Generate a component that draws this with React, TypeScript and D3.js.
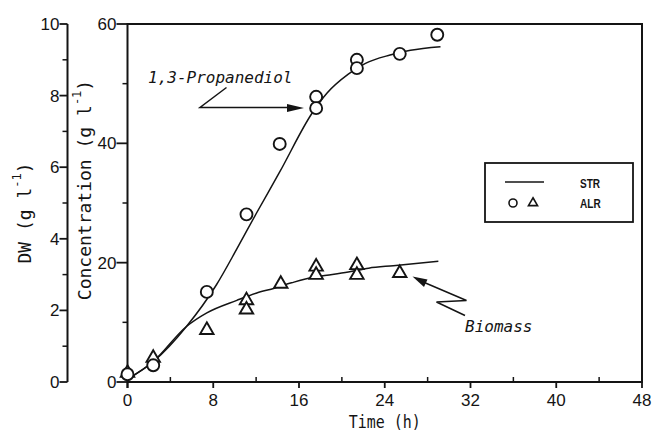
import React, { useEffect, useRef } from 'react';
import * as d3 from 'd3';

// ALR, 1,3-propanediol (circles), g/l
const pdoTime = [0, 2.4, 7.4, 11.1, 14.2, 17.6, 17.6, 21.4, 21.4, 25.4, 28.9];
const pdoConc = [1.3, 2.8, 15.1, 28.1, 39.9, 47.8, 45.9, 54.0, 52.6, 55.0, 58.2];
// ALR, biomass (triangles), DW g/l
const bioTime = [0, 2.4, 7.4, 11.1, 11.1, 14.3, 17.6, 17.6, 21.4, 21.4, 25.4];
const bioDW = [0.25, 0.67, 1.45, 2.28, 2.02, 2.74, 3.22, 2.99, 3.26, 2.99, 3.04];
// STR curves
const strPdoTime = [0, 2.4, 5.5, 8.3, 10.2, 12, 14.2, 17.2, 18.6, 20.6, 22.2, 24.5, 26.4, 29.2];
const strPdoConc = [0.5, 3.4, 9.3, 16.3, 22.3, 28.2, 35.2, 45, 48.4, 51.6, 53.4, 54.8, 55.6, 56.2];
const strBioTime = [0, 2.4, 5.5, 7.4, 10.2, 12, 13.7, 15.3, 17.2, 18.6, 20.6, 22.5, 24.8, 29];
const strBioDW = [0.08, 0.57, 1.55, 1.93, 2.28, 2.48, 2.62, 2.77, 2.92, 2.98, 3.07, 3.18, 3.25, 3.37];

const timeTicks = [0, 8, 16, 24, 32, 40, 48];
const timeMinor = [4, 12, 20, 28, 36, 44];
const concTicks = [0, 20, 40, 60];
const concMinor = [10, 30, 50];
const dwTicks = [0, 2, 4, 6, 8, 10];
const dwMinor = [1, 3, 5, 7, 9];

const INK = '#141414';
const SANS = 'Liberation Sans, Arial, sans-serif';
const MONO = 'DejaVu Sans Mono, monospace';

const App = () => {
  const ref = useRef<SVGSVGElement>(null);

  useEffect(() => {
    const svg = d3.select(ref.current);
    svg.selectAll('*').remove();

    const left = 127.5, right = 642, top = 24, bottom = 382, dwX = 67.5;
    const x = d3.scaleLinear().domain([0, 48]).range([left, right]);
    const y = d3.scaleLinear().domain([0, 60]).range([bottom, top]);
    const yDW = d3.scaleLinear().domain([0, 10]).range([bottom, top]);

    const g = svg.append('g');

    // frame
    g.append('path')
      .attr('d', `M${left},${bottom + 6}V${top}H${right}V${bottom}H${left}`)
      .attr('fill', 'none').attr('stroke', INK).attr('stroke-width', 2);

    // x ticks
    g.selectAll('.xt').data(timeTicks).enter().append('line')
      .attr('x1', (d) => x(d)).attr('x2', (d) => x(d))
      .attr('y1', bottom).attr('y2', bottom + 6)
      .attr('stroke', INK).attr('stroke-width', 1.8);
    g.selectAll('.xm').data(timeMinor).enter().append('line')
      .attr('x1', (d) => x(d)).attr('x2', (d) => x(d))
      .attr('y1', bottom).attr('y2', bottom - 5)
      .attr('stroke', INK).attr('stroke-width', 1.5);
    g.selectAll('.xl').data(timeTicks).enter().append('text')
      .attr('x', (d) => x(d)).attr('y', bottom + 24)
      .attr('text-anchor', 'middle')
      .attr('font-family', SANS).attr('font-size', 17).attr('fill', INK)
      .text((d) => d);

    // concentration axis ticks
    g.selectAll('.yt').data(concTicks).enter().append('line')
      .attr('x1', left - 11).attr('x2', left)
      .attr('y1', (d) => y(d)).attr('y2', (d) => y(d))
      .attr('stroke', INK).attr('stroke-width', 1.8);
    g.selectAll('.ym').data(concMinor).enter().append('line')
      .attr('x1', left - 5).attr('x2', left)
      .attr('y1', (d) => y(d)).attr('y2', (d) => y(d))
      .attr('stroke', INK).attr('stroke-width', 1.5);
    g.selectAll('.yl').data(concTicks).enter().append('text')
      .attr('x', left - 11).attr('y', (d) => y(d) + 6)
      .attr('text-anchor', 'end')
      .attr('font-family', SANS).attr('font-size', 17).attr('fill', INK)
      .text((d) => d);

    // DW axis
    g.append('line')
      .attr('x1', dwX).attr('x2', dwX).attr('y1', top).attr('y2', bottom)
      .attr('stroke', INK).attr('stroke-width', 2);
    g.selectAll('.dt').data(dwTicks).enter().append('line')
      .attr('x1', dwX - 8).attr('x2', dwX)
      .attr('y1', (d) => yDW(d)).attr('y2', (d) => yDW(d))
      .attr('stroke', INK).attr('stroke-width', 1.8);
    g.selectAll('.dm').data(dwMinor).enter().append('line')
      .attr('x1', dwX - 5).attr('x2', dwX)
      .attr('y1', (d) => yDW(d)).attr('y2', (d) => yDW(d))
      .attr('stroke', INK).attr('stroke-width', 1.5);
    g.selectAll('.dl').data(dwTicks).enter().append('text')
      .attr('x', dwX - 8).attr('y', (d) => yDW(d) + 6)
      .attr('text-anchor', 'end')
      .attr('font-family', SANS).attr('font-size', 17).attr('fill', INK)
      .text((d) => d);

    // axis titles
    const rotLabel = (cx: number, cy: number, base: string) => {
      const t = g.append('text')
        .attr('transform', `translate(${cx},${cy}) rotate(-90)`)
        .attr('text-anchor', 'middle').attr('dominant-baseline', 'central')
        .attr('font-family', MONO).attr('font-size', 18).attr('fill', INK);
      t.append('tspan').text(base + ' (g l');
      t.append('tspan').attr('font-size', 12).attr('dy', -7).text('-1');
      t.append('tspan').attr('dy', 7).text(')');
    };
    rotLabel(24, 213, 'DW');
    rotLabel(84, 190, 'Concentration');

    g.append('text')
      .attr('transform', `translate(${x(24)},${428}) scale(0.88,1)`)
      .attr('text-anchor', 'middle')
      .attr('font-family', MONO).attr('font-size', 17).attr('fill', INK)
      .text('Time (h)');

    // STR curves
    const lineC = d3.line<number>().x((d, i) => x(strPdoTime[i])).y((d) => y(d)).curve(d3.curveMonotoneX);
    const lineB = d3.line<number>().x((d, i) => x(strBioTime[i])).y((d) => yDW(d)).curve(d3.curveMonotoneX);
    g.append('path').attr('d', lineC(strPdoConc)).attr('fill', 'none').attr('stroke', INK).attr('stroke-width', 1.5);
    g.append('path').attr('d', lineB(strBioDW)).attr('fill', 'none').attr('stroke', INK).attr('stroke-width', 1.5);

    // ALR markers
    const tri = d3.symbol(d3.symbolTriangle, 78);
    g.selectAll('.bio').data(bioDW).enter().append('path')
      .attr('d', tri)
      .attr('transform', (d, i) => `translate(${x(bioTime[i])},${yDW(d)})`)
      .attr('fill', 'white').attr('stroke', INK).attr('stroke-width', 1.9);
    g.selectAll('.pdo').data(pdoConc).enter().append('circle')
      .attr('cx', (d, i) => x(pdoTime[i])).attr('cy', (d) => y(d)).attr('r', 6)
      .attr('fill', 'white').attr('stroke', INK).attr('stroke-width', 1.9);

    // annotations
    g.append('text').attr('x', 148).attr('y', 83)
      .attr('font-family', MONO).attr('font-style', 'italic').attr('font-size', 16).attr('fill', INK)
      .text('1,3-Propanediol');
    g.append('path').attr('d', 'M226.5,87.5L200,107.5H290')
      .attr('fill', 'none').attr('stroke', INK).attr('stroke-width', 1.5);
    g.append('path').attr('d', 'M304,108L287,104V112Z').attr('fill', INK);

    g.append('text').attr('x', 465).attr('y', 332)
      .attr('font-family', MONO).attr('font-style', 'italic').attr('font-size', 16).attr('fill', INK)
      .text('Biomass');
    g.append('path').attr('d', 'M422,281.5L466.5,300.5L436.5,302L465,315.5')
      .attr('fill', 'none').attr('stroke', INK).attr('stroke-width', 1.5);
    g.append('path').attr('d', 'M412.5,276.5L427.5,279.5L424,287Z').attr('fill', INK);

    // legend
    g.append('rect').attr('x', 485).attr('y', 163).attr('width', 148).attr('height', 59)
      .attr('fill', 'white').attr('stroke', INK).attr('stroke-width', 1.8);
    g.append('line').attr('x1', 505).attr('x2', 544).attr('y1', 182).attr('y2', 182)
      .attr('stroke', INK).attr('stroke-width', 1.5);
    g.append('circle').attr('cx', 513).attr('cy', 203).attr('r', 4)
      .attr('fill', 'white').attr('stroke', INK).attr('stroke-width', 1.6);
    g.append('path').attr('d', d3.symbol(d3.symbolTriangle, 36)())
      .attr('transform', 'translate(533,203)')
      .attr('fill', 'white').attr('stroke', INK).attr('stroke-width', 1.6);
    [['STR', 187.5], ['ALR', 207.5]].forEach(([s, yy]) => {
      g.append('text')
        .attr('transform', `translate(580,${yy}) scale(0.8,1)`)
        .attr('font-family', SANS).attr('font-weight', 'bold').attr('font-size', 12.6).attr('fill', INK)
        .text(s as string);
    });
  }, []);

  return (
    <svg ref={ref} width={655} height={433}
      style={{ position: 'absolute', left: 0, top: 0, background: 'white' }} />
  );
};

export default App;
